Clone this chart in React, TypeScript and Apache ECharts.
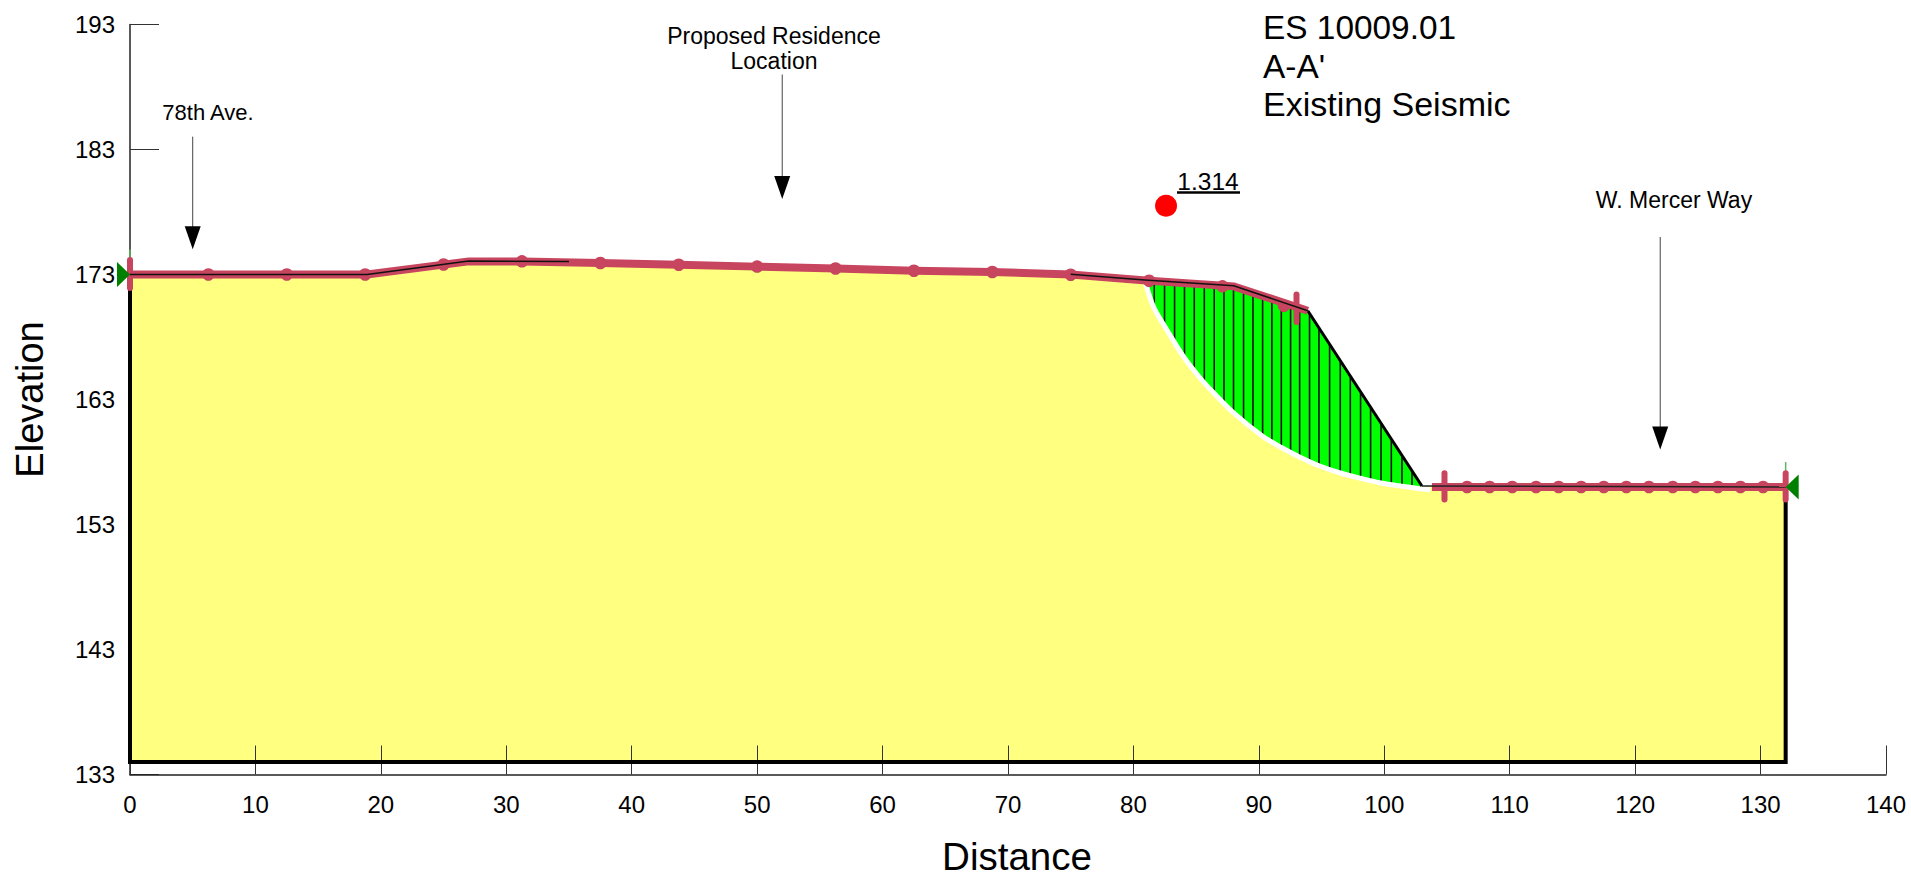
import React, { useEffect, useRef } from "react";
import * as echarts from "echarts";

const FONT = "'Liberation Sans', Arial, sans-serif";

const yTicks = [133, 143, 153, 163, 173, 183, 193];

// ground polygon
const groundX = [0, 18.9, 27, 35, 75, 80.9, 88, 93.9, 103, 132, 132, 0];
const groundY = [173, 173, 174.08, 174.05, 173, 172.56, 172.1, 170.1, 156.08, 156, 134, 134];

// surface lines
const surfaceLeftX = [0, 18.9, 27, 35];
const surfaceLeftY = [173, 173, 174.08, 174.05];
const surfaceMidX = [75, 80.9, 88, 93.9];
const surfaceMidY = [173.02, 172.56, 172.1, 170.1];
const surfaceRightX = [103, 132];
const surfaceRightY = [156.08, 156];

// distributed-load style band with markers
const bandLeftX = [0, 18.9, 27, 31.25, 37.5, 43.75, 50, 56.25, 62.5, 68.75, 75, 81.25, 88, 93.9];
const bandLeftY = [173, 173, 174.05, 174.05, 173.92, 173.78, 173.63, 173.48, 173.3, 173.2, 173, 172.5, 172.05, 170.1];
const bandRightX = [103.8, 132];
const bandRightY = [156, 156];
const bandMarkers: number[][] = [
  [6.25, 173], [12.5, 173], [18.75, 173], [25, 173.8], [31.25, 174.05], [37.5, 173.92],
  [43.75, 173.78], [50, 173.63], [56.25, 173.48], [62.5, 173.3], [68.75, 173.2], [75, 172.98],
  [81.25, 172.5], [87.1, 172.05], [92, 170.5],
  [106.6, 156], [108.4, 156], [110.2, 156], [112.1, 156], [113.9, 156], [115.7, 156], [117.5, 156],
  [119.3, 156], [121.1, 156], [123, 156], [124.8, 156], [126.6, 156], [128.4, 156], [130.2, 156],
];
const bandCrosses: number[][] = [
  [0, 174.16, 171.92],
  [93, 171.4, 169.2],
  [104.8, 157.1, 155],
  [132, 157.1, 155],
];

// slip mass
const slipArcX = [80.94, 81.6, 82.67, 84.0, 85.33, 86.39, 87.98, 90.27, 91.76, 93.28, 94.79, 96.49, 98.11, 99.74, 101.41, 103.0, 103.67];
const slipArcY = [172.4, 170.42, 168.56, 166.42, 164.7, 163.54, 161.94, 160.08, 159.18, 158.38, 157.7, 157.12, 156.7, 156.32, 156.06, 155.84, 155.78];
const slipTopX = [103, 93.9, 88, 80.94];
const slipTopY = [156.08, 170.1, 172.1, 172.5];

// slice lines: [distance, top, bottom]
const sliceLines: number[][] = [
  [81.66, 172.5, 170.3], [82.48, 172.45, 168.9], [83.28, 172.4, 167.6], [84.07, 172.35, 166.33],
  [84.85, 172.3, 165.3], [85.65, 172.25, 164.35], [86.44, 172.2, 163.5], [87.22, 172.15, 162.7],
  [87.98, 172.1, 161.94], [88.78, 171.83, 161.3], [89.53, 171.58, 160.68], [90.3, 171.32, 160.06],
  [91.04, 171.07, 159.62], [91.79, 170.81, 159.16], [92.53, 170.56, 158.78], [93.25, 170.32, 158.4],
  [94.04, 169.88, 158.04], [94.79, 168.73, 157.7], [95.64, 167.42, 157.4], [96.49, 166.11, 157.12],
  [97.29, 164.88, 156.9], [98.11, 163.61, 156.7], [98.91, 162.38, 156.5], [99.74, 161.1, 156.32],
  [100.56, 159.84, 156.19], [101.41, 158.53, 156.06], [102.21, 157.3, 155.95],
];

// outline of the section
const outlineX = [0, 0, 132, 132];
const outlineY = [172.1, 134, 134, 155.9];

// arrows: [distance, start elevation, tip elevation]
const arrows: number[][] = [
  [5, 184.03, 175.02],
  [52, 189, 179.04],
  [122, 176, 159],
];

// piezometric ends: [distance, elevation, direction]
const pins: number[][] = [
  [0, 173, 1],
  [132, 156, -1],
];
const pinStems: number[][] = [
  [0, 175, 174.1],
  [132, 158, 157.1],
];

const critical = [[82.6, 178.5]];

const zip = (a: number[], b: number[]) => a.map((v, i) => [v, b[i]]);

const polygonSeries = (xs: number[], ys: number[], fill: string, z: number) => ({
  type: "custom",
  z,
  silent: true,
  data: [0],
  renderItem: (_: any, api: any) => ({
    type: "polygon",
    shape: { points: xs.map((x, i) => api.coord([x, ys[i]])) },
    style: { fill, stroke: "none" },
  }),
});

const lineSeries = (xs: number[], ys: number[], color: string, width: number, z: number, extra: any = {}, smooth: number | boolean = false) => ({
  type: "line",
  z,
  silent: true,
  symbol: "none",
  clip: false,
  smooth,
  data: zip(xs, ys),
  lineStyle: { color, width, join: "miter", ...extra },
});

const verticalSeries = (rows: number[][], color: string, width: number, z: number, cap = "butt") => ({
  type: "custom",
  z,
  silent: true,
  clip: false,
  data: rows,
  encode: { x: 0, y: 1 },
  renderItem: (_: any, api: any) => {
    const a = api.coord([api.value(0), api.value(1)]);
    const b = api.coord([api.value(0), api.value(2)]);
    return {
      type: "line",
      shape: { x1: a[0], y1: a[1], x2: b[0], y2: b[1] },
      style: { stroke: color, lineWidth: width, lineCap: cap },
    };
  },
});

const text = (t: string, x: number, y: number, size: number, align = "center") => ({
  type: "text",
  x,
  y,
  z: 20,
  style: {
    text: t,
    fill: "#000",
    font: `${size}px ${FONT}`,
    align,
    verticalAlign: "middle",
  },
});

export default function App() {
  const ref = useRef<HTMLDivElement>(null);
  useEffect(() => {
    const chart = echarts.init(ref.current!, undefined, { renderer: "svg" });
    chart.setOption({
      animation: false,
      backgroundColor: "#fff",
      grid: { left: 130, top: 24.5, width: 1756, height: 750, containLabel: false, outerBoundsMode: "none" },
      xAxis: {
        type: "value",
        min: 0,
        max: 140,
        interval: 10,
        z: 3,
        splitLine: { show: false },
        axisLine: { lineStyle: { color: "#222", width: 1.5 } },
        axisTick: { inside: true, length: 29, lineStyle: { color: "#333", width: 1 } },
        axisLabel: { color: "#000", fontFamily: FONT, fontSize: 24, margin: 18 },
        name: "Distance",
        nameLocation: "middle",
        nameGap: 62,
        nameTextStyle: { color: "#000", fontFamily: FONT, fontSize: 38.5, padding: [0, 0, 0, 18] },
      },
      yAxis: {
        type: "value",
        min: 133,
        max: 193,
        z: 0,
        splitLine: { show: false },
        axisLine: { lineStyle: { color: "#222", width: 1.5 } },
        axisTick: { inside: true, length: 29, customValues: yTicks, lineStyle: { color: "#333", width: 1 } },
        axisLabel: { color: "#000", fontFamily: FONT, fontSize: 24, margin: 15, customValues: yTicks },
        name: "Elevation",
        nameLocation: "middle",
        nameGap: 81,
        nameRotate: 90,
        nameTextStyle: { color: "#000", fontFamily: FONT, fontSize: 38 },
      },
      series: [
        polygonSeries(groundX, groundY, "#FFFF80", 2),
        polygonSeries(slipArcX.slice(0, 16).concat(slipTopX), slipArcY.slice(0, 16).concat(slipTopY), "#00FF00", 3),
        verticalSeries(sliceLines, "#111", 1.6, 4),
        lineSeries(slipArcX, slipArcY, "#FFFFFF", 5, 4, {}, 0.3),
        lineSeries(outlineX, outlineY, "#000", 4, 4),
        lineSeries([93.9, 103], [170.1, 156.08], "#000", 3, 4),
        verticalSeries(pinStems, "#5DB85D", 1.5, 4),
        lineSeries(bandLeftX, bandLeftY, "#C8455F", 8, 5),
        lineSeries(bandRightX, bandRightY, "#C8455F", 8, 5),
        {
          type: "scatter",
          z: 5,
          silent: true,
          clip: false,
          symbol: "circle",
          symbolSize: 12.5,
          itemStyle: { color: "#C8455F", opacity: 1 },
          data: bandMarkers,
        },
        verticalSeries(bandCrosses, "#C8455F", 6, 5, "round"),
        lineSeries(surfaceLeftX, surfaceLeftY, "#111", 1.5, 6),
        lineSeries(surfaceMidX, surfaceMidY, "#111", 1.5, 6),
        lineSeries(surfaceRightX, surfaceRightY, "#222", 1.5, 6),
        {
          type: "custom",
          z: 6,
          silent: true,
          clip: false,
          data: arrows,
          encode: { x: 0, y: 1 },
          renderItem: (_: any, api: any) => {
            const a = api.coord([api.value(0), api.value(1)]);
            const b = api.coord([api.value(0), api.value(2)]);
            return {
              type: "group",
              children: [
                {
                  type: "line",
                  shape: { x1: a[0], y1: a[1], x2: b[0], y2: b[1] - 20 },
                  style: { stroke: "#444", lineWidth: 1 },
                },
                {
                  type: "polygon",
                  shape: { points: [[b[0] - 8, b[1] - 23], [b[0] + 8, b[1] - 23], [b[0], b[1]]] },
                  style: { fill: "#000" },
                },
              ],
            };
          },
        },
        {
          type: "custom",
          z: 7,
          silent: true,
          clip: false,
          data: pins,
          encode: { x: 0, y: 1 },
          renderItem: (_: any, api: any) => {
            const p = api.coord([api.value(0), api.value(1)]);
            const d = api.value(2);
            return {
              type: "polygon",
              shape: { points: [[p[0] - d * 13, p[1] - 12.5], [p[0] - d * 13, p[1] + 12.5], [p[0], p[1]]] },
              style: { fill: "#008000" },
            };
          },
        },
        {
          type: "scatter",
          z: 7,
          silent: true,
          symbol: "circle",
          symbolSize: 22,
          itemStyle: { color: "#FF0000", opacity: 1 },
          data: critical,
        },
      ],
      graphic: [
        text("ES 10009.01", 1263, 27, 33.4, "left"),
        text("A-A'", 1263, 66, 33.4, "left"),
        text("Existing Seismic", 1263, 104, 34, "left"),
        text("Proposed Residence", 774, 36, 23),
        text("Location", 774, 61, 23),
        text("78th Ave.", 208, 112, 22),
        text("W. Mercer Way", 1674, 200, 23),
        text("1.314", 1208, 181, 24.5),
        {
          type: "line",
          z: 20,
          shape: { x1: 1177, y1: 192.5, x2: 1240, y2: 192.5 },
          style: { stroke: "#000", lineWidth: 2.5 },
        },
      ],
    });
    return () => chart.dispose();
  }, []);
  return <div ref={ref} style={{ position: "fixed", left: 0, top: 0, width: 1911, height: 878 }} />;
}
